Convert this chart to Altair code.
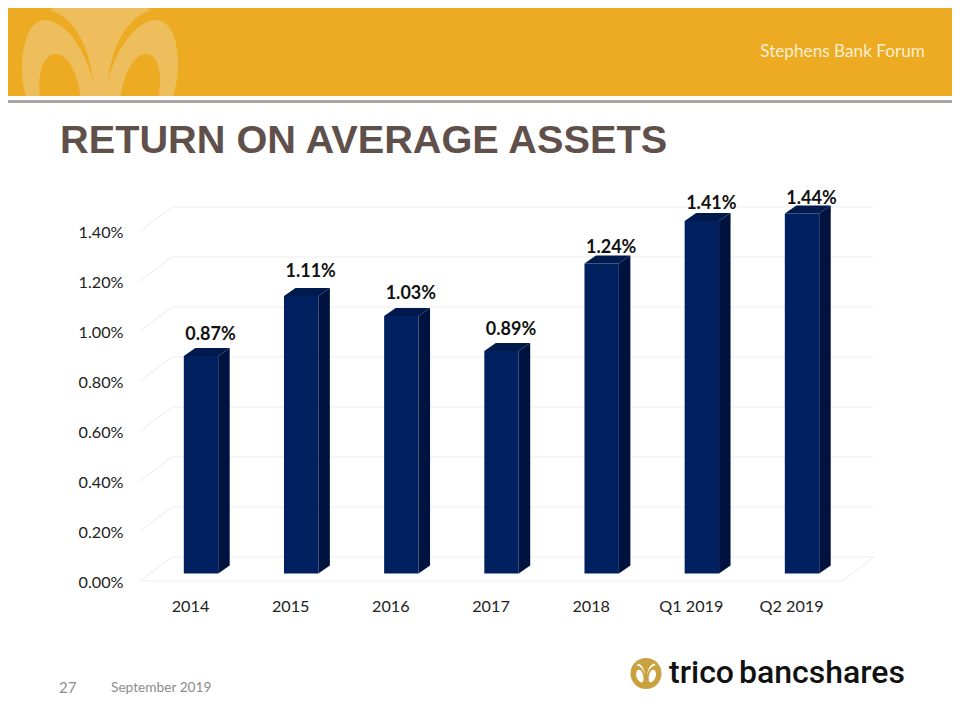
import altair as alt
import pandas as pd

# ---- values ----
categories = ["2014", "2015", "2016", "2017", "2018", "Q1 2019", "Q2 2019"]
roaa = [0.87, 1.11, 1.03, 0.89, 1.24, 1.41, 1.44]
labels = ["0.87%", "1.11%", "1.03%", "0.89%", "1.24%", "1.41%", "1.44%"]
y_ticks = [0.0, 0.2, 0.4, 0.6, 0.8, 1.0, 1.2, 1.4]

# ---- layout constants (page px, chart origin sits at 8,8) ----
W, H = 944, 704
def px(v): return v - 8
PX_Y = 250.0   # px per 1.00 %
PX_X = 100.17  # px per category
label_gap = [21, 24, 22, 21, 16, 17, 15]
label_shift = 9.5
half_bar = 17.2 / PX_X
depth_x = 11.5 / PX_X
depth_y = 8 / PX_Y
base_lift = 7.5 / PX_Y
wall_x = 32 / PX_X
wall_y = 24 / PX_Y
right_x = (842 - 201) / PX_X

xs = alt.Scale(domain=[0, 6], range=[px(201), px(201) + 6 * PX_X])
ys = alt.Scale(domain=[0, 1.6], range=[px(581), px(581) - 1.6 * PX_Y])

front = pd.DataFrame({"i": range(7), "v": roaa})
front["x"] = front.i - half_bar
front["x2"] = front.i + half_bar
front["y"] = front.v + base_lift
front["y2"] = base_lift

side_rows, top_rows, grid_rows, label_rows = [], [], [], []
for i, v in enumerate(roaa):
    b = base_lift
    xr = i + half_bar
    xl = i - half_bar
    side_rows += [
        dict(i=i, x=xr, y=v + b, y2=b),
        dict(i=i, x=xr + depth_x, y=v + b + depth_y, y2=b + depth_y),
    ]
    top_rows += [
        dict(i=i, x=xl, y=v + b, y2=v + b),
        dict(i=i, x=xl + depth_x, y=v + b + depth_y, y2=v + b),
        dict(i=i, x=xr, y=v + b + depth_y, y2=v + b),
        dict(i=i, x=xr + depth_x, y=v + b + depth_y, y2=v + b + depth_y),
    ]
    label_rows.append(dict(x=i + label_shift / PX_X, y=v + b + label_gap[i] / PX_Y, t=labels[i]))

x_front_left = (140 - 201) / PX_X
for t in y_ticks:
    grid_rows += [
        dict(t=t, o=0, x=x_front_left, y=t),
        dict(t=t, o=1, x=x_front_left + wall_x, y=t + wall_y),
        dict(t=t, o=2, x=right_x + wall_x, y=t + wall_y),
    ]
floor = pd.DataFrame([
    dict(o=0, x=x_front_left, y=0.0),
    dict(o=1, x=right_x, y=0.0),
    dict(o=2, x=right_x + wall_x, y=wall_y),
])

NAVY, NAVY_SIDE, NAVY_TOP = "#002060", "#00133F", "#001A4E"
GRID = "#EDEDED"

cat_expr = "[" + ",".join(f"'{c}'" for c in categories) + "][datum.value]"
X = alt.X("x:Q", scale=xs, title=None, axis=alt.Axis(
    values=list(range(7)), labelExpr=cat_expr, domain=False, ticks=False, grid=False,
    labelFont="Lato", labelFontSize=16.2, labelColor="#222222", labelPadding=0,
    labelOffset=-11, labelFlush=False, labelOverlap=False, labelBound=False,
    labelBaseline="middle", offset=-(H - px(606.5))))
Y = alt.Y("y:Q", scale=ys, title=None, axis=alt.Axis(
    values=y_ticks, labelExpr="format(datum.value,'.2f')+'%'", domain=False, ticks=False,
    grid=False, labelFont="Lato", labelFontSize=16.2, labelColor="#222222", labelPadding=0,
    labelOffset=1, labelOverlap=False, labelBound=False, labelFlush=False, offset=-px(123)))

# --- chart layers ---
grid = alt.Chart(pd.DataFrame(grid_rows)).mark_line(color=GRID, strokeWidth=1).encode(
    x=X, y=Y, detail="t:N", order="o:Q")
floor_line = alt.Chart(floor).mark_line(color=GRID, strokeWidth=1).encode(x=X, y=Y, order="o:Q")

side = alt.Chart(pd.DataFrame(side_rows)).mark_area(color=NAVY_SIDE, line=False).encode(
    x=X, y=Y, y2="y2:Q", detail="i:N")
top = alt.Chart(pd.DataFrame(top_rows)).mark_area(color=NAVY_TOP).encode(
    x=X, y=Y, y2="y2:Q", detail="i:N")
face = alt.Chart(front).mark_rect(color=NAVY).encode(x=X, x2="x2:Q", y=Y, y2="y2:Q")

value_labels = alt.Chart(pd.DataFrame(label_rows)).mark_text(
    font="Lato", fontWeight="bold", fontSize=18, color="#111111", align="center", baseline="middle"
).encode(x=X, y=Y, text="t:N")

# --- slide furniture ---
def band(x1, x2, y1, y2, color):
    return alt.Chart(pd.DataFrame({"a": [0]})).mark_rect(color=color).encode(
        x=alt.value(px(x1)), x2=alt.value(px(x2)), y=alt.value(px(y1)), y2=alt.value(px(y2)))

def txt(s, x, y, size, color, font="Lato", weight="normal", align="left"):
    return alt.Chart(pd.DataFrame({"t": [s]})).mark_text(
        font=font, fontSize=size, color=color, fontWeight=weight, align=align, baseline="alphabetic"
    ).encode(x=alt.value(px(x)), y=alt.value(px(y)), text="t:N")

def unit_path(cmds, cx, cy, half):
    out = []
    for c in cmds:
        if isinstance(c, str):
            out.append(c)
        else:
            out.append(f"{(c[0]-cx)/half:.4f} {(c[1]-cy)/half:.4f}")
    return " ".join(out)

orn = [
    "M", (27, 100), "C", (19, 78), (21, 45), (30, 30), "C", (34, 23), (40, 20), (46, 20),
    "C", (66, 22), (86, 50), (93, 82),
    "C", (90, 50), (76, 18), (50, 10), "C", (55, 8), (58, 4), (60, 0), "L", (140, 0),
    "C", (142, 4), (146, 8), (151, 10),
    "C", (125, 18), (111, 50), (108, 82),
    "C", (115, 50), (135, 22), (155, 20), "C", (162, 20), (168, 24), (172, 32),
    "C", (180, 48), (180, 78), (172, 100), "Z",
    "M", (40, 100), "L", (81, 100), "C", (78, 72), (68, 54), (55, 54),
    "C", (45, 54), (37, 70), (40, 100), "Z",
    "M", (120, 100), "L", (158, 100), "C", (164, 70), (156, 54), (147, 54),
    "C", (134, 54), (124, 72), (120, 100), "Z",
]
ornament = alt.Chart(pd.DataFrame({"a": [0]})).mark_point(
    shape=unit_path(orn, 100, 50, 100), filled=True, color="#EEBD5C", opacity=1, size=40000
).encode(x=alt.value(px(100)), y=alt.value(px(50)))

logo_disc = alt.Chart(pd.DataFrame({"a": [0]})).mark_point(
    shape="circle", filled=True, color="#C9A13F", opacity=1, size=961
).encode(x=alt.value(px(646)), y=alt.value(px(673.5)))

logo_motif = [
    "M", (50, 10), "C", (76, 18), (90, 50), (95, 86), "C", (86, 50), (66, 22), (40, 22), "Z",
    "M", (151, 10), "C", (125, 18), (111, 50), (106, 86), "C", (115, 50), (135, 22), (161, 22), "Z",
    "M", (55, 50), "C", (70, 50), (82, 72), (84, 100), "C", (85, 122), (80, 130), (72, 130),
    "C", (52, 125), (34, 95), (38, 72), "C", (40, 58), (46, 50), (55, 50), "Z",
    "M", (146, 50), "C", (131, 50), (119, 72), (117, 100), "C", (116, 122), (121, 130), (129, 130),
    "C", (149, 125), (167, 95), (163, 72), "C", (161, 58), (155, 50), (146, 50), "Z",
]
motif = alt.Chart(pd.DataFrame({"a": [0]})).mark_point(
    shape=unit_path(logo_motif, 100, 70, 100), filled=True, color="#FFFFFF", opacity=1, size=1000
).encode(x=alt.value(px(646)), y=alt.value(px(673)))

title = txt("RETURN ON AVERAGE ASSETS", 60, 153, 39.7, "#5F504B", font="Liberation Sans", weight="bold")
forum = txt("Stephens Bank Forum", 925, 57, 17.2, "#FBEFD0", align="right")
page = txt("27", 59, 692.5, 15, "#8C8C8C")
date = txt("September 2019", 111, 692, 13.7, "#8C8C8C")
brand1 = txt("trico", 669, 683, 32, "#111111", font="Roboto", weight=500)
brand2 = txt("bancshares", 739, 683, 32, "#111111", font="Roboto", weight=500)

chart = alt.layer(
    band(0, 960, 0, 96, "#ECAB22"), ornament,
    band(0, 960, 96, 100, "#FFFFFF"), band(0, 960, 100, 103, "#A9A5A1"),
    title, forum,
    grid, floor_line,
    side, top, face, value_labels,
    page, date, logo_disc, motif, brand1, brand2,
).properties(width=W, height=H, padding=0, autosize=alt.AutoSizeParams(type="none")
).configure_view(stroke=None)

chart.save("out.html", embed_options={"renderer": "svg", "actions": False})
